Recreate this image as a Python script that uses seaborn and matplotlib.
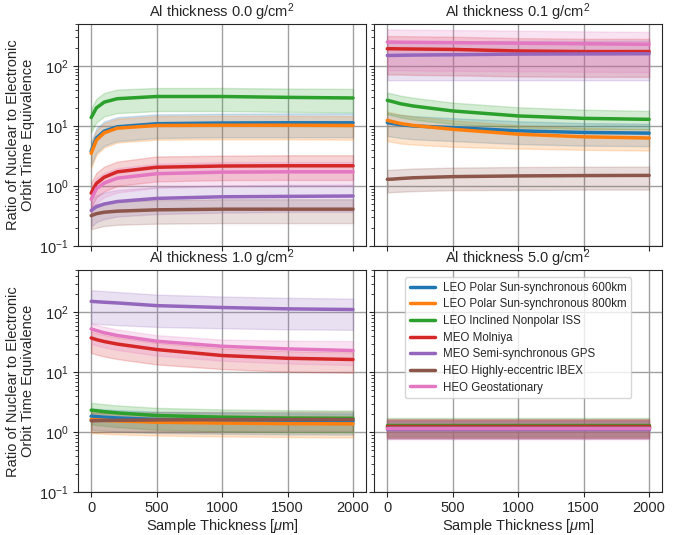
import pandas as pd
import matplotlib
matplotlib.use('Agg')
import matplotlib.pyplot as plt
import seaborn as sns

# sample thickness grid [um]
thickness = [0, 40, 100, 200, 500, 1000, 1500, 2000]

orbits = ['LEO Polar Sun-synchronous 600km', 'LEO Polar Sun-synchronous 800km',
          'LEO Inclined Nonpolar ISS', 'MEO Molniya', 'MEO Semi-synchronous GPS',
          'HEO Highly-eccentric IBEX', 'HEO Geostationary']

al_thickness = [0.0, 0.1, 1.0, 5.0]

# ---- Al 0.0 g/cm2 ----
mean_00 = [
    [3.8, 6.3, 8.2, 9.7, 10.9, 11.2, 11.3, 11.3],
    [3.5, 5.8, 7.7, 9.2, 10.2, 10.3, 10.3, 10.2],
    [13.8, 20, 25, 28.5, 31, 31, 30, 29.3],
    [0.76, 1.1, 1.4, 1.72, 2.05, 2.15, 2.17, 2.17],
    [0.39, 0.45, 0.5, 0.55, 0.62, 0.66, 0.67, 0.68],
    [0.32, 0.345, 0.365, 0.38, 0.40, 0.41, 0.41, 0.41],
    [0.6, 0.9, 1.12, 1.35, 1.6, 1.7, 1.72, 1.72],
]
low_00 = [
    [2.2, 3.6, 4.7, 5.6, 6.3, 6.5, 6.5, 6.5],
    [2.0, 3.3, 4.4, 5.3, 5.9, 6.0, 6.0, 5.9],
    [7.9, 11.5, 14.5, 16.4, 17.7, 17.7, 17.2, 16.8],
    [0.44, 0.64, 0.81, 1.0, 1.19, 1.25, 1.26, 1.26],
    [0.21, 0.25, 0.28, 0.31, 0.34, 0.36, 0.37, 0.37],
    [0.19, 0.2, 0.215, 0.225, 0.235, 0.24, 0.24, 0.24],
    [0.35, 0.52, 0.65, 0.78, 0.93, 0.99, 1.0, 1.0],
]
high_00 = [
    [5.5, 9.1, 11.9, 14, 15.6, 16, 16.2, 16.2],
    [5.0, 8.4, 11.1, 13.2, 14.6, 14.8, 14.8, 14.6],
    [19.5, 28.5, 35.5, 40.5, 43, 43, 42, 41.5],
    [1.14, 1.65, 2.1, 2.55, 3.1, 3.2, 3.25, 3.25],
    [0.6, 0.7, 0.78, 0.86, 0.96, 1.02, 1.04, 1.05],
    [0.46, 0.5, 0.53, 0.55, 0.58, 0.6, 0.6, 0.6],
    [0.9, 1.35, 1.65, 1.98, 2.35, 2.5, 2.5, 2.5],
]

# ---- Al 0.1 g/cm2 ----
mean_01 = [
    [11.4, 11.0, 10.5, 10.0, 9.4, 8.3, 7.8, 7.6],
    [12.4, 11.8, 11.0, 10.2, 8.8, 7.3, 6.6, 6.3],
    [26.8, 25.5, 23.5, 21.5, 17.8, 14.7, 13.4, 12.9],
    [194, 194, 193, 192, 189, 178, 174, 174],
    [150, 150, 151, 152, 154, 158, 159, 160],
    [1.29, 1.3, 1.33, 1.37, 1.43, 1.47, 1.49, 1.5],
    [251, 250, 249, 248, 245, 240, 235, 230],
]
low_01 = [
    [6.8, 6.6, 6.3, 6.0, 5.6, 5.0, 4.7, 4.6],
    [5.6, 5.4, 5.1, 4.9, 4.5, 4.2, 4.0, 3.9],
    [15.6, 15, 13.9, 12.8, 10.8, 9.4, 8.9, 8.8],
    [72, 72, 72, 71, 70, 67, 66, 66],
    [58, 58, 58, 58, 58, 58, 58, 58],
    [0.78, 0.79, 0.8, 0.82, 0.85, 0.86, 0.87, 0.87],
    [85, 85, 85, 84, 83, 82, 80, 79],
]
high_01 = [
    [16.7, 16, 15.3, 14.6, 13.5, 12, 11.2, 10.9],
    [17.5, 16.6, 15.5, 14.4, 12.4, 10.3, 9.3, 8.9],
    [36, 34.5, 32, 29.5, 24.5, 20.5, 18.7, 17.8],
    [316, 316, 315, 313, 308, 292, 285, 285],
    [250, 250, 252, 254, 257, 262, 264, 266],
    [1.85, 1.87, 1.9, 1.95, 2.02, 2.07, 2.09, 2.1],
    [408, 406, 404, 402, 397, 388, 378, 369],
]

# ---- Al 1.0 g/cm2 ----
mean_10 = [
    [1.85, 1.82, 1.78, 1.73, 1.63, 1.57, 1.54, 1.52],
    [1.63, 1.61, 1.58, 1.54, 1.47, 1.42, 1.39, 1.38],
    [2.33, 2.28, 2.2, 2.1, 1.9, 1.78, 1.72, 1.7],
    [37.3, 35, 32.5, 29.5, 23.9, 19, 17.1, 16.3],
    [152, 150, 147, 143, 129, 120, 114, 111],
    [1.55, 1.56, 1.57, 1.58, 1.6, 1.62, 1.63, 1.63],
    [52.7, 49.5, 45.5, 41, 32.9, 27.1, 24.5, 23],
]
low_10 = [
    [1.1, 1.08, 1.06, 1.03, 0.97, 0.94, 0.92, 0.91],
    [0.97, 0.96, 0.94, 0.92, 0.88, 0.85, 0.83, 0.82],
    [1.35, 1.32, 1.28, 1.22, 1.1, 1.03, 1.0, 0.99],
    [21, 19.7, 18.3, 16.6, 13.5, 11.3, 10.2, 9.8],
    [65, 64, 63, 61, 57, 54, 52, 51],
    [1.0, 1.0, 1.01, 1.02, 1.03, 1.04, 1.05, 1.05],
    [30, 28, 26, 23.5, 19, 15.6, 14, 13.2],
]
high_10 = [
    [2.5, 2.46, 2.4, 2.34, 2.2, 2.12, 2.08, 2.05],
    [2.2, 2.17, 2.13, 2.08, 1.98, 1.92, 1.88, 1.86],
    [3.1, 3.03, 2.93, 2.8, 2.55, 2.4, 2.33, 2.3],
    [48, 45, 42, 38, 31, 25, 22.5, 21.5],
    [233, 230, 225, 218, 197, 183, 174, 169],
    [2.1, 2.1, 2.12, 2.13, 2.16, 2.18, 2.2, 2.2],
    [65, 61.5, 57, 51.5, 41.5, 35, 33.5, 33],
]

# ---- Al 5.0 g/cm2 ----
mean_50 = [
    [1.22, 1.22, 1.22, 1.22, 1.22, 1.22, 1.22, 1.22],
    [1.20, 1.20, 1.20, 1.20, 1.20, 1.20, 1.20, 1.20],
    [1.33, 1.33, 1.33, 1.33, 1.33, 1.33, 1.33, 1.33],
    [1.27, 1.27, 1.27, 1.27, 1.27, 1.27, 1.27, 1.27],
    [1.15, 1.15, 1.15, 1.15, 1.15, 1.15, 1.15, 1.15],
    [1.22, 1.22, 1.22, 1.22, 1.22, 1.22, 1.22, 1.22],
    [1.17, 1.17, 1.17, 1.17, 1.17, 1.17, 1.17, 1.17],
]
low_50 = [
    [0.80, 0.80, 0.80, 0.80, 0.80, 0.80, 0.80, 0.80],
    [0.79, 0.79, 0.79, 0.79, 0.79, 0.79, 0.79, 0.79],
    [0.86, 0.86, 0.86, 0.86, 0.86, 0.86, 0.86, 0.86],
    [0.82, 0.82, 0.82, 0.82, 0.82, 0.82, 0.82, 0.82],
    [0.76, 0.76, 0.76, 0.76, 0.76, 0.76, 0.76, 0.76],
    [0.80, 0.80, 0.80, 0.80, 0.80, 0.80, 0.80, 0.80],
    [0.77, 0.77, 0.77, 0.77, 0.77, 0.77, 0.77, 0.77],
]
high_50 = [
    [1.62, 1.62, 1.62, 1.62, 1.62, 1.62, 1.62, 1.62],
    [1.60, 1.60, 1.60, 1.60, 1.60, 1.60, 1.60, 1.60],
    [1.72, 1.72, 1.72, 1.72, 1.72, 1.72, 1.72, 1.72],
    [1.66, 1.66, 1.66, 1.66, 1.66, 1.66, 1.66, 1.66],
    [1.55, 1.55, 1.55, 1.55, 1.55, 1.55, 1.55, 1.55],
    [1.62, 1.62, 1.62, 1.62, 1.62, 1.62, 1.62, 1.62],
    [1.57, 1.57, 1.57, 1.57, 1.57, 1.57, 1.57, 1.57],
]

means = [mean_00, mean_01, mean_10, mean_50]
lows = [low_00, low_01, low_10, low_50]
highs = [high_00, high_01, high_10, high_50]

sns.set_style('ticks')
plt.rcParams['font.family'] = ['Liberation Sans', 'DejaVu Sans']
plt.rcParams['mathtext.fontset'] = 'custom'
plt.rcParams['mathtext.it'] = 'Liberation Sans:italic'
plt.rcParams['mathtext.rm'] = 'Liberation Sans'
plt.rcParams['xtick.major.size'] = 3.5
plt.rcParams['ytick.major.size'] = 3.5
plt.rcParams['ytick.minor.size'] = 2
plt.rcParams['xtick.major.pad'] = 3
plt.rcParams['ytick.major.pad'] = 3
palette = sns.color_palette('tab10', len(orbits))

fig, axes = plt.subplots(2, 2, figsize=(6.73, 5.35), dpi=100, sharex=True, sharey=True)
fig.subplots_adjust(left=0.116, right=0.984, top=0.955, bottom=0.08, wspace=0.028, hspace=0.11)

for k, ax in enumerate(axes.flat):
    rows = []
    for i, orb in enumerate(orbits):
        for t, v in zip(thickness, means[k][i]):
            rows.append({'thickness': t, 'ratio': v, 'orbit': orb})
    df = pd.DataFrame(rows)
    for i, orb in enumerate(orbits):
        ax.fill_between(thickness, lows[k][i], highs[k][i], color=palette[i], alpha=0.2)
    sns.lineplot(data=df, x='thickness', y='ratio', hue='orbit', hue_order=orbits,
                 palette=palette, lw=2.5, ax=ax, legend=(k == 3))
    ax.set_yscale('log')
    ax.set_ylim(0.1, 500)
    ax.set_xlim(-100, 2100)
    ax.set_xticks([0, 500, 1000, 1500, 2000])
    ax.grid(True, which='major', color='#a0a0a0', lw=1.0)
    ax.set_title(f'Al thickness {al_thickness[k]:.1f} g/cm$^2$', fontsize=10.5, pad=5)
    ax.tick_params(labelsize=10.5)
    if k >= 2:
        ax.set_xlabel(r'Sample Thickness [$\mu$m]', fontsize=10.5, labelpad=1)
    else:
        ax.set_xlabel('')
    if k % 2 == 0:
        ax.set_ylabel('Ratio of Nuclear to Electronic\nOrbit Time Equivalence', fontsize=10.5,
                      labelpad=3, linespacing=1.1)
    else:
        ax.set_ylabel('')

handles, labels = axes[1, 1].get_legend_handles_labels()
axes[1, 1].legend(handles, labels, loc='upper center', fontsize=8.3, frameon=True,
                  labelspacing=0.4, handlelength=2.2, handletextpad=0.7, borderaxespad=0.6)

fig.savefig('out.png', dpi=100)
